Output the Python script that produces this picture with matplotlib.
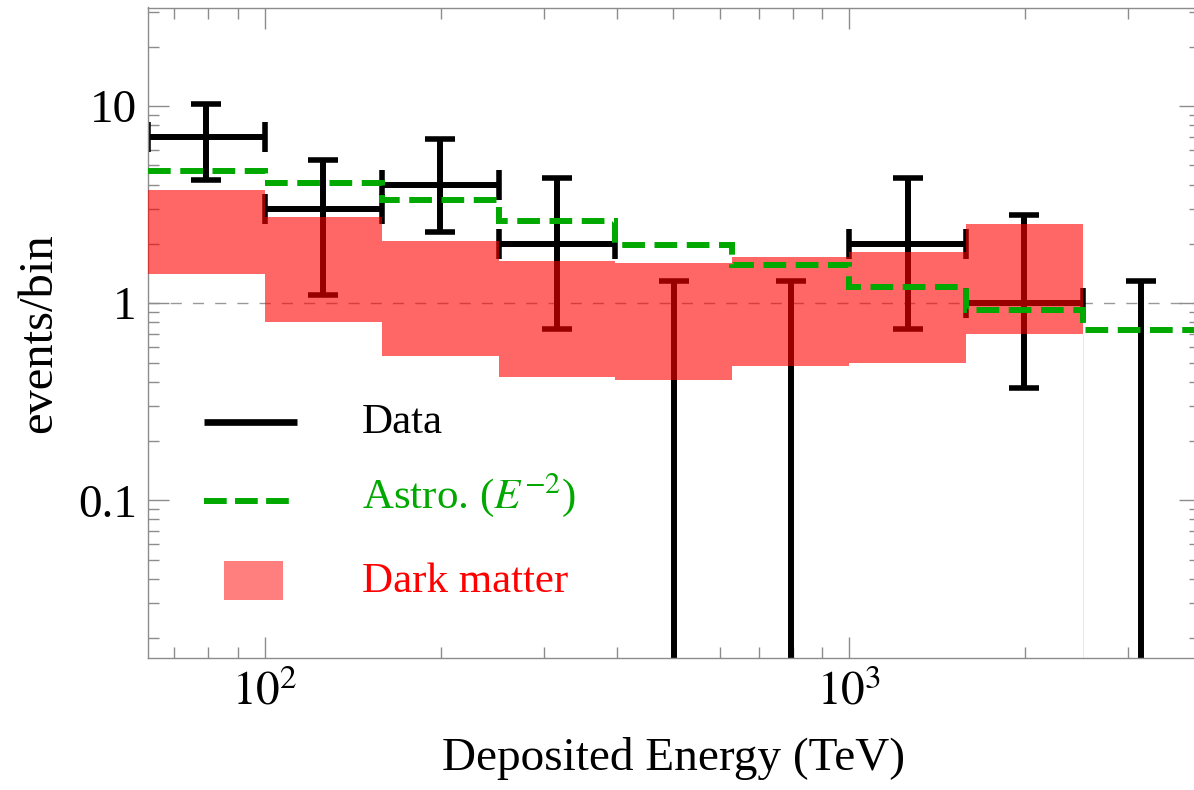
import numpy as np
import matplotlib
matplotlib.use("Agg")
import matplotlib.pyplot as plt
from matplotlib.ticker import LogLocator, FixedLocator, FixedFormatter, NullFormatter

plt.rcParams['font.family'] = ['Liberation Serif', 'DejaVu Serif']
plt.rcParams['mathtext.fontset'] = 'stix'

# ---- data ----
bin_edges = [63.1, 100.0, 158.5, 251.2, 398.1, 631.0, 1000.0, 1584.9, 2511.9, 3981.1]
data_counts = [7, 3, 4, 2, 0, 0, 2, 1, 0]
data_err_low = [4.2, 1.1, 2.3, 0.74, 0.0, 0.0, 0.74, 0.37, 0.0]
data_err_high = [10.3, 5.3, 6.8, 4.3, 1.29, 1.29, 4.3, 2.8, 1.29]
astro_counts = [4.66, 4.05, 3.35, 2.62, 1.98, 1.56, 1.21, 0.92, 0.73]
dm_low = [1.41, 0.80, 0.54, 0.42, 0.41, 0.48, 0.50, 0.70]
dm_high = [3.73, 2.75, 2.07, 1.64, 1.60, 1.72, 1.82, 2.53]
x_tick_values = [100, 1000]
x_tick_labels = [r'$10^{2}$', r'$10^{3}$']
y_tick_values = [0.1, 1, 10]
y_tick_labels = ['0.1', '1', '10']

GREEN = '#00A800'
W, H = 1194, 790
fig = plt.figure(figsize=(W / 100, H / 100), dpi=100)
ax_l, ax_r, ax_t, ax_b = 148, 1199.7, 7.5, 658
ax = fig.add_axes([ax_l / W, 1 - ax_b / H, (ax_r - ax_l) / W, (ax_b - ax_t) / H])
ax.set_xscale('log')
ax.set_yscale('log')
ax.set_xlim(10 ** 1.8, 10 ** 3.6)
ax.set_ylim(10 ** -1.8, 10 ** 1.5)

edges = np.array(bin_edges)
centers = np.sqrt(edges[:-1] * edges[1:])
counts = np.array(data_counts, dtype=float)
lo = np.array(data_err_low)
hi = np.array(data_err_high)

# reference line at 1
ax.axhline(1.0, color='#999999', lw=1.0, ls=(0, (8, 8)), zorder=1)

EB = dict(fmt='none', ecolor='black', elinewidth=4.3, capsize=11, capthick=4.0, zorder=2)
# data with nonzero counts
nz = counts > 0
ax.errorbar(centers[nz], counts[nz],
            xerr=[centers[nz] - edges[:-1][nz], edges[1:][nz] - centers[nz]],
            yerr=[counts[nz] - lo[nz], hi[nz] - counts[nz]], **EB)
# zero-count bins: upper limit bars from bottom
z = ~nz
floor = 1e-3
ax.errorbar(centers[z], hi[z], yerr=[hi[z] - floor, np.zeros(z.sum())], **EB)

# dark matter band
dm_edges = edges[:len(dm_low) + 1]
ax.stairs(dm_high, dm_edges, baseline=dm_low, fill=True, color='red', alpha=0.6,
          lw=0, zorder=3)
ax.plot([dm_edges[-1], dm_edges[-1]], [10 ** -1.8, dm_low[-1]], color='red', lw=0.6,
        alpha=0.15, zorder=3)

# astro
ax.stairs(astro_counts, edges, color=GREEN, lw=4.3, ls=(0, (3.8, 1.6)), zorder=4,
          baseline=None)

# axes styling
for sp in ax.spines.values():
    sp.set_color('#8c8c8c')
    sp.set_linewidth(1.0)
ax.spines['right'].set_visible(False)
ax.tick_params(which='both', direction='in', top=True, right=True, colors='#8c8c8c',
               labelcolor='black', labelsize=34, width=1.0)
ax.tick_params(which='major', length=15)
ax.tick_params(which='minor', length=8)
ax.tick_params(axis='y', pad=8)
ax.tick_params(axis='x', pad=9)
ax.xaxis.set_major_locator(FixedLocator(x_tick_values))
ax.xaxis.set_major_formatter(FixedFormatter(x_tick_labels))
ax.xaxis.set_minor_locator(LogLocator(base=10, subs=np.arange(2, 10), numticks=20))
ax.xaxis.set_minor_formatter(NullFormatter())
ax.yaxis.set_major_locator(FixedLocator(y_tick_values))
ax.yaxis.set_major_formatter(FixedFormatter(y_tick_labels))
ax.yaxis.set_minor_locator(LogLocator(base=10, subs=np.arange(2, 10), numticks=20))
ax.yaxis.set_minor_formatter(NullFormatter())

ax.set_xlabel('Deposited Energy (TeV)', fontsize=34, labelpad=16)
ax.set_ylabel('events/bin', fontsize=35, labelpad=12)

# legend (manual)
def fx(px):
    return (px - ax_l) / (ax_r - ax_l)

def fy(py):
    return (ax_b - py) / (ax_b - ax_t)

ax.plot([fx(204), fx(297)], [fy(422), fy(422)], transform=ax.transAxes, color='black',
        lw=4.8, solid_capstyle='butt', zorder=6)
ax.plot([fx(204), fx(294)], [fy(500.7), fy(500.7)], transform=ax.transAxes, color=GREEN,
        lw=4.3, ls=(0, (3.8, 1.4)), zorder=6)
ax.add_patch(plt.Rectangle((fx(224), fy(600)), fx(283) - fx(224), fy(561) - fy(600),
                           transform=ax.transAxes, color='red', alpha=0.5, lw=0, zorder=6))
ax.text(fx(362), fy(433), 'Data', transform=ax.transAxes, fontsize=31, color='black',
        va='baseline', ha='left')
ax.text(fx(362), fy(508), r'Astro. ($E^{-2}$)', transform=ax.transAxes, fontsize=31,
        color=GREEN, va='baseline', ha='left')
ax.text(fx(362), fy(592), 'Dark matter', transform=ax.transAxes, fontsize=31, color='red',
        va='baseline', ha='left')

fig.savefig('out.png', dpi=100)
